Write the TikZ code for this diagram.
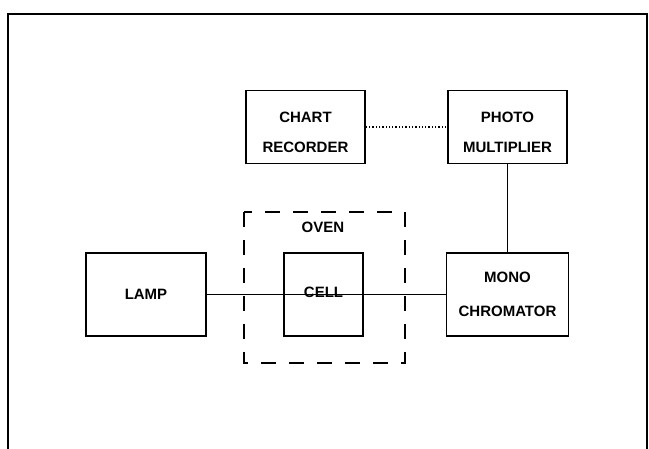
\documentclass[tikz,border=0pt]{standalone}
\usepackage{fontspec}
\setmainfont{Liberation Sans}
\usepackage{tikz}
\usetikzlibrary{positioning}

\begin{document}
\begin{tikzpicture}[x=1pt,y=-1pt,
	blk/.style={draw,line width=1.5pt,align=center,inner sep=0pt,font=\bfseries\fontsize{15}{30}\selectfont},
	lbl/.style={align=center,font=\bfseries\fontsize{15}{30}\selectfont},
	ovenbox/.style={line width=1.5pt,dash pattern=on 15pt off 13pt}]
	\useasboundingbox (0,0) rectangle (649,449);
	% outer frame, open at the bottom
	\draw[line width=1.5pt] (8,449) |- (647,14) -- (647,449);
	% blocks
	\node[blk,minimum width=120pt,minimum height=83pt] (lamp) at (146,294.5) {LAMP};
	\node[blk,minimum width=79pt,minimum height=83pt,label={[lbl,anchor=base,yshift=2pt]center:CELL}] (cell) at (323.5,294.5) {};
	\node[blk,minimum width=122pt,minimum height=83pt,font=\bfseries\fontsize{15}{34}\selectfont] (mono) at (507.5,294.5) {MONO\\CHROMATOR};
	\node[blk,minimum width=119pt,minimum height=73pt,label={[lbl,yshift=-5pt]center:CHART\\RECORDER}] (chart) at (305.5,127) {};
	\node[blk,minimum width=119pt,minimum height=73pt,label={[lbl,yshift=-5pt]center:PHOTO\\MULTIPLIER}] (pm) at (507.5,127) {};
	% oven
	\coordinate (ovnw) at (244,212);
	\coordinate (ovse) at (405,363);
	\draw[ovenbox] (ovnw) rectangle (ovse);
	\node[lbl] (oven) at (323,227) {OVEN};
	% connections
	\draw[line width=1.5pt] (lamp.east) -- (mono.west);
	\draw[line width=1.5pt] (pm.south) -- (mono.north);
	\draw[line width=1.3pt,dotted] (chart.east) -- (pm.west);
\end{tikzpicture}
\end{document}
